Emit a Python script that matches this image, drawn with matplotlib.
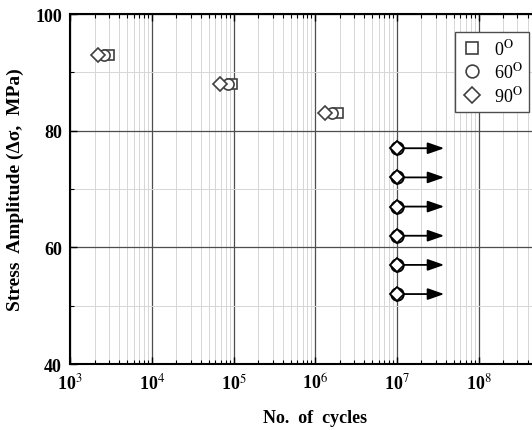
import numpy as np
import matplotlib
matplotlib.use('Agg')
import matplotlib.pyplot as plt
from matplotlib.ticker import LogLocator, MultipleLocator, FixedLocator, FixedFormatter

plt.rcParams['font.family'] = 'Liberation Serif'
plt.rcParams['mathtext.fontset'] = 'stix'

# data
cycles_0 = [3.0e3, 9.7e4, 1.9e6]
stress_0 = [93, 88, 83]
cycles_60 = [2.6e3, 8.5e4, 1.6e6]
stress_60 = [93, 88, 83]
cycles_90 = [2.2e3, 6.8e4, 1.3e6]
stress_90 = [93, 88, 83]

# run-outs (no failure) at 1e7 cycles
runout_cycles = 1e7
runout_stress = [77, 72, 67, 62, 57, 52]
runout_arrow_end = 3.8e7

x_ticks = [1e3, 1e4, 1e5, 1e6, 1e7, 1e8, 1e9]
x_ticklabels = ['10$^3$', '10$^4$', '10$^5$', '10$^6$', '10$^7$', '10$^8$', '']

fig = plt.figure(figsize=(5.32, 4.31), dpi=100)
ax = fig.add_axes([0.132, 0.153, 0.921, 0.812])

mk = dict(linestyle='none', markerfacecolor='white', markeredgecolor='0.25', markeredgewidth=1.2)
ax.plot(cycles_0, stress_0, marker='s', markersize=7.5, label='0$^{\\mathrm{O}}$', zorder=4, **mk)
ax.plot(cycles_60, stress_60, marker='o', markersize=8, label='60$^{\\mathrm{O}}$', zorder=5, **mk)
ax.plot(cycles_90, stress_90, marker='D', markersize=7.5, label='90$^{\\mathrm{O}}$', zorder=6, **mk)

ro = dict(linestyle='none', markerfacecolor='white', markeredgecolor='k', markeredgewidth=1.3, zorder=7)
ax.plot([runout_cycles] * len(runout_stress), runout_stress, marker='o', markersize=9, **ro)
ax.plot([runout_cycles] * len(runout_stress), runout_stress, marker='D', markersize=6.8, **ro)
for s in runout_stress:
    ax.annotate('', xy=(runout_arrow_end, s), xytext=(runout_cycles * 1.13, s),
                arrowprops=dict(arrowstyle='-|>,head_length=1.0,head_width=0.35', color='k',
                                lw=1.3, shrinkA=0, shrinkB=0), zorder=6)

ax.set_xscale('log')
ax.set_xlim(1e3, 1e9)
ax.set_ylim(40, 100)
ax.xaxis.set_major_locator(FixedLocator(x_ticks))
ax.xaxis.set_major_formatter(FixedFormatter(x_ticklabels))
ax.xaxis.set_minor_locator(LogLocator(base=10, subs=np.arange(2, 10), numticks=20))
ax.yaxis.set_major_locator(MultipleLocator(20))
ax.yaxis.set_minor_locator(MultipleLocator(10))

ax.grid(which='major', color='0.3', lw=0.9)
ax.grid(which='minor', color='0.84', lw=0.7)
ax.set_axisbelow(True)

ax.tick_params(which='both', direction='in', top=True, right=True)
ax.tick_params(which='major', length=5, width=1.0, labelsize=13, pad=6)
ax.tick_params(which='minor', length=3, width=0.8)
for lab in ax.get_xticklabels() + ax.get_yticklabels():
    lab.set_fontweight('bold')
for sp in ax.spines.values():
    sp.set_linewidth(1.5)

ax.set_xlabel('No.  of  cycles', fontsize=13, fontweight='bold', labelpad=12)
ax.set_ylabel('Stress  Amplitude (Δσ,  MPa)', fontsize=14, fontweight='bold', labelpad=8)

leg = ax.legend(loc='upper right', bbox_to_anchor=(0.955, 0.975), fontsize=13, frameon=True,
                fancybox=False, edgecolor='0.3', framealpha=1, handletextpad=0.6,
                borderpad=0.35, labelspacing=0.2, handlelength=1.2, markerscale=1.15)
leg.get_frame().set_linewidth(1.0)

fig.savefig('out.png', dpi=100)
